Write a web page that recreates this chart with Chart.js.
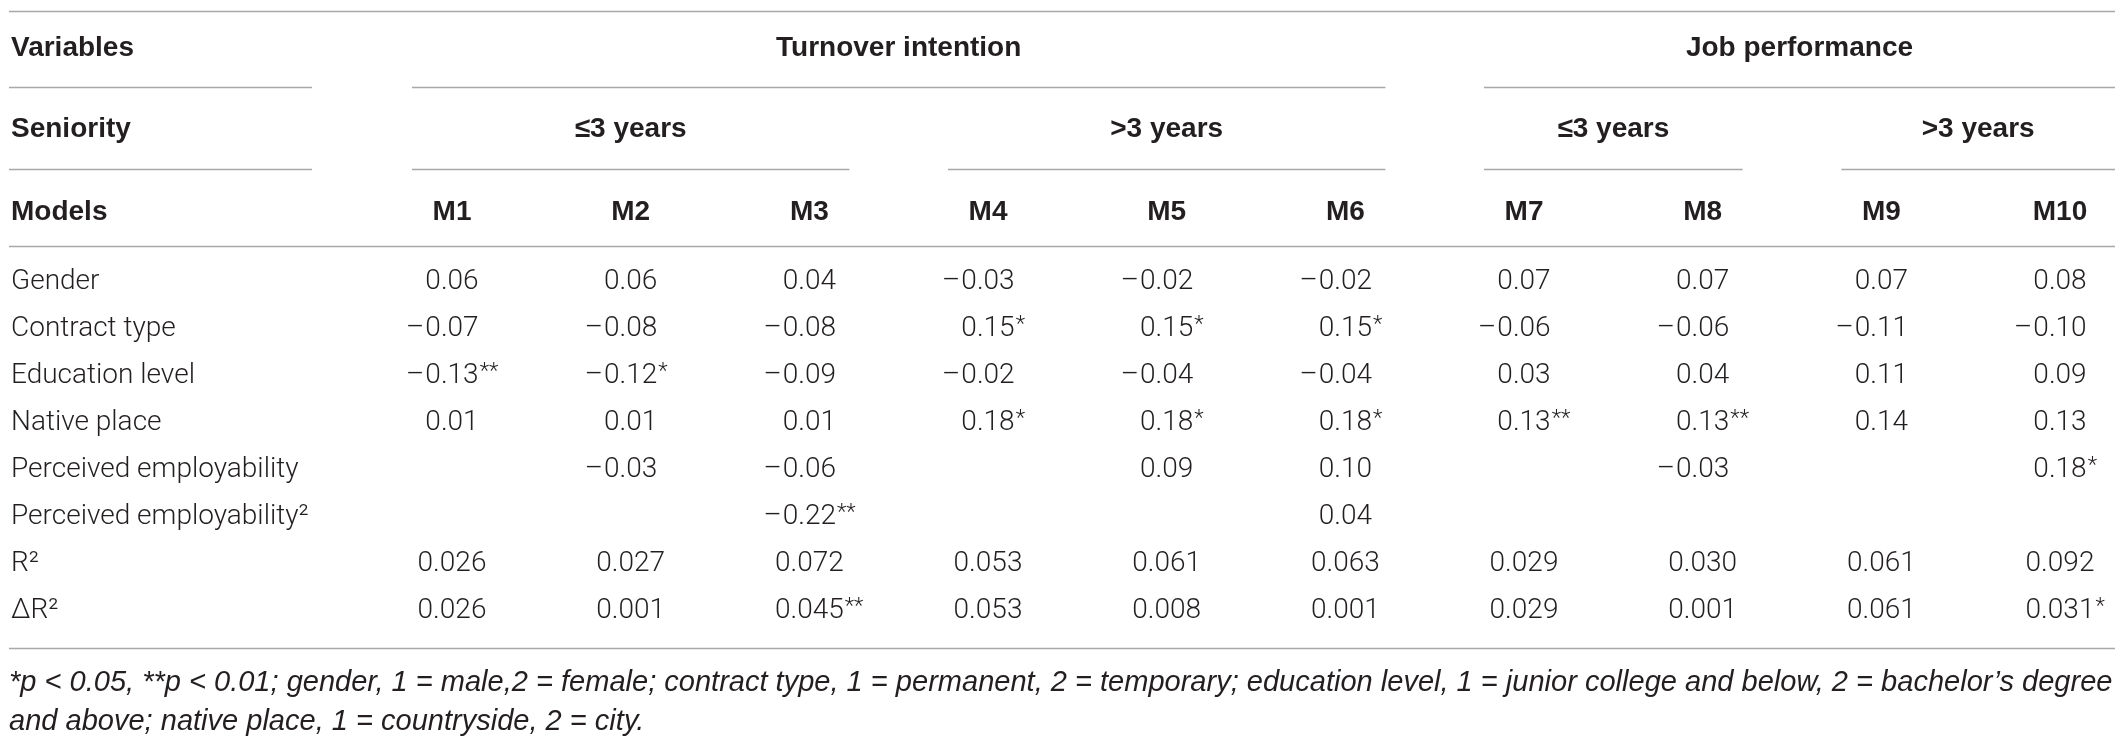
<!DOCTYPE html>
<html>
<head>
<meta charset="utf-8">
<script src="https://cdn.jsdelivr.net/npm/chart.js@4.4.0/dist/chart.umd.min.js"></script>
<style>
  html, body { margin: 0; padding: 0; background: #fff; }
  #wrap { width: 2128px; height: 739px; }
</style>
</head>
<body>
<div id="wrap"><canvas id="regTable" width="2128" height="739"></canvas></div>
<script>
// === DATA ===
const models = ["M1", "M2", "M3", "M4", "M5", "M6", "M7", "M8", "M9", "M10"];
const rowLabels = ["Gender", "Contract type", "Education level", "Native place",
  "Perceived employability", "Perceived employability²", "R²", "∆R²"];

const gender         = ["0.06", "0.06", "0.04", "–0.03", "–0.02", "–0.02", "0.07", "0.07", "0.07", "0.08"];
const contractType   = ["–0.07", "–0.08", "–0.08", "0.15*", "0.15*", "0.15*", "–0.06", "–0.06", "–0.11", "–0.10"];
const educationLevel = ["–0.13**", "–0.12*", "–0.09", "–0.02", "–0.04", "–0.04", "0.03", "0.04", "0.11", "0.09"];
const nativePlace    = ["0.01", "0.01", "0.01", "0.18*", "0.18*", "0.18*", "0.13**", "0.13**", "0.14", "0.13"];
const perceivedEmp   = ["", "–0.03", "–0.06", "", "0.09", "0.10", "", "–0.03", "", "0.18*"];
const perceivedEmpSq = ["", "", "–0.22**", "", "", "0.04", "", "", "", ""];
const rSquared       = ["0.026", "0.027", "0.072", "0.053", "0.061", "0.063", "0.029", "0.030", "0.061", "0.092"];
const deltaRSquared  = ["0.026", "0.001", "0.045**", "0.053", "0.008", "0.001", "0.029", "0.001", "0.061", "0.031*"];
const valueRows = [gender, contractType, educationLevel, nativePlace,
  perceivedEmp, perceivedEmpSq, rSquared, deltaRSquared];

const stubHeaders = ["Variables", "Seniority", "Models"];
const outcomeLabels = ["Turnover intention", "Job performance"];
const outcomeSpans = [["M1", "M6"], ["M7", "M10"]];
const seniorityLabels = ["≤3 years", ">3 years", "≤3 years", ">3 years"];
const senioritySpans = [["M1", "M3"], ["M4", "M6"], ["M7", "M8"], ["M9", "M10"]];
const footnoteLines = [
  "*p < 0.05, **p < 0.01; gender, 1 = male,2 = female; contract type, 1 = permanent, 2 = temporary; education level, 1 = junior college and below, 2 = bachelor’s degree",
  "and above; native place, 1 = countryside, 2 = city."
];

// === LAYOUT / STYLE ===
const INK = "#231f20";
const RULE = "#a8a8a8";
const BODY = "Roboto";
const HEAD = "'Liberation Sans', Arial, sans-serif";
const FOOT = "'Liberation Sans', Arial, sans-serif";
const TABLE_LEFT = 9, TABLE_RIGHT = 2115, STUB_RULE_END = 312;
const HEADER_ROWS = [-4.97, -3.24, -1.49];       // in row units of the y scale
const RULE_ROWS = [-5.77, -4.15, -2.40, -0.77, 7.79];
const FOOT_ROWS = [8.52, 9.36];
const RULE_EXT = 0.224;                          // group rule overhang, in column bands

// one point per filled cell, positioned by the category scales
const cells = [];
valueRows.forEach(function (row, r) {
  row.forEach(function (v, c) {
    if (v) cells.push({ x: models[c], y: rowLabels[r], text: v });
  });
});

const tablePlugin = {
  id: "tablePlugin",
  afterDraw: function (chart) {
    const ctx = chart.ctx;
    const xs = chart.scales.x, ys = chart.scales.y;
    const band = xs.getPixelForValue(1) - xs.getPixelForValue(0);
    const rowY = function (p) { return ys.getPixelForValue(p); };
    const colX = function (m) { return xs.getPixelForValue(models.indexOf(m)); };
    function spanEdges(span) {
      const l = colX(span[0]) - RULE_EXT * band;
      const r = span[1] === models[models.length - 1] ? TABLE_RIGHT : colX(span[1]) + RULE_EXT * band;
      return [l, r];
    }
    function hline(x1, x2, y) {
      ctx.beginPath();
      ctx.moveTo(x1, Math.round(y) + 0.5);
      ctx.lineTo(x2, Math.round(y) + 0.5);
      ctx.stroke();
    }

    ctx.save();
    // rules
    ctx.strokeStyle = RULE;
    ctx.lineWidth = 1.6;
    [0, 3, 4].forEach(function (i) { hline(TABLE_LEFT, TABLE_RIGHT, rowY(RULE_ROWS[i])); });
    hline(TABLE_LEFT, STUB_RULE_END, rowY(RULE_ROWS[1]));
    hline(TABLE_LEFT, STUB_RULE_END, rowY(RULE_ROWS[2]));
    outcomeSpans.forEach(function (s) { const e = spanEdges(s); hline(e[0], e[1], rowY(RULE_ROWS[1])); });
    senioritySpans.forEach(function (s) { const e = spanEdges(s); hline(e[0], e[1], rowY(RULE_ROWS[2])); });

    // headers
    ctx.fillStyle = INK;
    ctx.textBaseline = "middle";
    ctx.font = "bold 28px " + HEAD;
    ctx.textAlign = "left";
    stubHeaders.forEach(function (h, i) { ctx.fillText(h, TABLE_LEFT + 2, rowY(HEADER_ROWS[i])); });
    ctx.textAlign = "center";
    outcomeLabels.forEach(function (h, i) {
      const e = spanEdges(outcomeSpans[i]);
      ctx.fillText(h, (e[0] + e[1]) / 2, rowY(HEADER_ROWS[0]));
    });
    seniorityLabels.forEach(function (h, i) {
      const e = spanEdges(senioritySpans[i]);
      ctx.fillText(h, (e[0] + e[1]) / 2, rowY(HEADER_ROWS[1]));
    });
    models.forEach(function (m, i) { ctx.fillText(m, xs.getPixelForValue(i), rowY(HEADER_ROWS[2])); });

    // cell values: number centred, sign hangs left, stars hang right
    const meta = chart.getDatasetMeta(0);
    const data = chart.data.datasets[0].data;
    meta.data.forEach(function (el, i) {
      let t = data[i].text;
      const neg = t.charAt(0) === "–";
      if (neg) t = t.slice(1);
      const m = t.match(/^([^*]+)(\**)$/);
      const core = m[1], stars = m[2];
      ctx.font = "300 28px " + BODY;
      const w = ctx.measureText(core).width;
      ctx.textAlign = "center";
      ctx.fillText(core, el.x, el.y);
      if (neg) {
        ctx.textAlign = "right";
        ctx.fillText("–", el.x - w / 2 - 1, el.y);
      }
      if (stars) {
        ctx.textAlign = "left";
        ctx.font = "300 22px " + BODY;
        ctx.fillText(stars, el.x + w / 2 + 1, el.y - 4);
      }
    });

    // footnote, sized so the first line runs the width of the table
    ctx.font = "italic 28px " + FOOT;
    const fw = ctx.measureText(footnoteLines[0]).width;
    const fs = Math.min(30, 28 * (TABLE_RIGHT - TABLE_LEFT - 2) / fw);
    ctx.font = "italic " + fs.toFixed(2) + "px " + FOOT;
    ctx.textAlign = "left";
    footnoteLines.forEach(function (l, i) { ctx.fillText(l, TABLE_LEFT, rowY(FOOT_ROWS[i])); });
    ctx.restore();
  }
};

new Chart(document.getElementById("regTable"), {
  type: "scatter",
  data: {
    datasets: [{
      data: cells,
      pointRadius: 0,
      pointHoverRadius: 0,
      showLine: false
    }]
  },
  options: {
    responsive: false,
    animation: false,
    devicePixelRatio: 1,
    events: [],
    layout: { padding: { left: 11, right: 68, top: 258.5, bottom: 104.5 } },
    plugins: { legend: { display: false }, tooltip: { enabled: false } },
    scales: {
      x: { type: "category", labels: models, offset: false, display: false },
      y: {
        type: "category",
        labels: rowLabels,
        offset: true,
        grid: { display: false },
        border: { display: false },
        ticks: {
          autoSkip: false,
          crossAlign: "far",
          padding: 0,
          color: INK,
          font: { family: BODY, size: 28, weight: "300" }
        },
        afterFit: function (scale) { scale.width = 441; }
      }
    }
  },
  plugins: [tablePlugin]
});
</script>
</body>
</html>
